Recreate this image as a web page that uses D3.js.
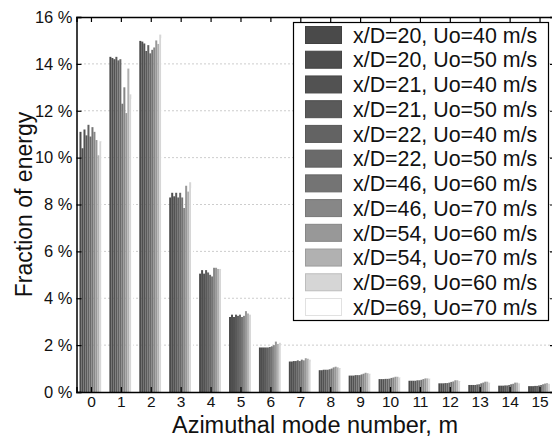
<!DOCTYPE html>
<html>
<head>
<meta charset="utf-8">
<script src="https://cdn.jsdelivr.net/npm/d3@7"></script>
<style>
  body { margin: 0; background: #fff; }
  svg { display: block; font-family: "Liberation Sans", Arial, sans-serif; }
</style>
</head>
<body>
<div id="chart"></div>
<script>
// modos azimutales
const modes = d3.range(0, 16)

// series (leyenda)
const seriesLabels = [
  "x/D=20, Uo=40 m/s", "x/D=20, Uo=50 m/s",
  "x/D=21, Uo=40 m/s", "x/D=21, Uo=50 m/s",
  "x/D=22, Uo=40 m/s", "x/D=22, Uo=50 m/s",
  "x/D=46, Uo=60 m/s", "x/D=46, Uo=70 m/s",
  "x/D=54, Uo=60 m/s", "x/D=54, Uo=70 m/s",
  "x/D=69, Uo=60 m/s", "x/D=69, Uo=70 m/s"
]
const seriesGrays = [
  "#4a4a4a", "#4e4e4e", "#525252", "#5a5a5a", "#636363", "#6a6a6a",
  "#747474", "#878787", "#989898", "#b1b1b1", "#d6d6d6", "#ffffff"
]

// fraccion de energia (%) por modo, una fila por modo, una columna por serie
const mode0 = [11.1, 10.4, 11.2, 10.95, 11.4, 10.9, 11.3, 11.1, 10.75, 10.1, 10.7, 10.65]
const mode1 = [14.3, 14.25, 14.2, 14.3, 14.15, 14.2, 12.3, 13.0, 11.9, 13.8, 12.7, 12.5]
const mode2 = [14.98, 14.95, 14.87, 14.55, 14.8, 14.45, 14.6, 14.7, 15.0, 14.85, 15.25, 15.1]
const mode3 = [8.3, 8.5, 8.35, 8.5, 8.3, 8.5, 8.3, 7.85, 8.8, 8.55, 8.95, 8.7]
const mode4 = [5.05, 5.2, 5.05, 5.2, 5.1, 5.0, 4.93, 5.3, 5.3, 5.25, 5.25, 5.15]
const mode5 = [3.2, 3.3, 3.2, 3.3, 3.25, 3.3, 3.2, 3.25, 3.45, 3.35, 3.3, 3.2]
const mode6 = [1.9, 1.9, 1.9, 1.9, 1.9, 1.92, 1.95, 2.0, 2.15, 2.05, 2.1, 2.0]
const mode7 = [1.3, 1.3, 1.32, 1.32, 1.35, 1.32, 1.38, 1.35, 1.44, 1.42, 1.38, 1.3]
const mode8 = [0.93, 0.93, 0.95, 0.95, 0.95, 0.97, 1.0, 1.05, 1.08, 1.05, 1.02, 0.98]
const mode9 = [0.7, 0.7, 0.7, 0.72, 0.72, 0.72, 0.75, 0.78, 0.82, 0.8, 0.78, 0.75]
const mode10 = [0.55, 0.55, 0.55, 0.56, 0.56, 0.57, 0.6, 0.62, 0.65, 0.65, 0.62, 0.6]
const mode11 = [0.48, 0.48, 0.48, 0.48, 0.5, 0.5, 0.52, 0.55, 0.58, 0.58, 0.57, 0.55]
const mode12 = [0.37, 0.37, 0.37, 0.38, 0.38, 0.4, 0.43, 0.45, 0.5, 0.5, 0.47, 0.43]
const mode13 = [0.3, 0.3, 0.3, 0.3, 0.32, 0.33, 0.37, 0.4, 0.44, 0.44, 0.4, 0.36]
const mode14 = [0.27, 0.27, 0.27, 0.28, 0.28, 0.3, 0.33, 0.35, 0.4, 0.4, 0.37, 0.33]
const mode15 = [0.25, 0.25, 0.25, 0.26, 0.26, 0.28, 0.3, 0.33, 0.36, 0.38, 0.35, 0.32]
const energyByMode = [mode0, mode1, mode2, mode3, mode4, mode5, mode6, mode7,
  mode8, mode9, mode10, mode11, mode12, mode13, mode14, mode15]

const yTicks = [0, 2, 4, 6, 8, 10, 12, 14, 16]

const width = 552, height = 437
const plot = { left: 76.5, right: 555, top: 17, bottom: 392 }

const svg = d3.select("#chart")
  .append("svg")
  .attr("width", width)
  .attr("height", height)
  .attr("viewBox", [0, 0, width, height])

// Escalas
const x = d3.scaleBand()
  .domain(modes)
  .range([plot.left, plot.right])
  .paddingInner(0.2)
  .paddingOuter(0.1)

const xs = d3.scaleBand()
  .domain(d3.range(seriesLabels.length))
  .range([0, x.bandwidth()])

const y = d3.scaleLinear()
  .domain([0, 16])
  .range([plot.bottom, plot.top])

// Grilla punteada
svg.append("g")
  .selectAll("line")
  .data(yTicks.filter(d => d > 0 && d < 16))
  .join("line")
  .attr("x1", plot.left)
  .attr("x2", plot.right)
  .attr("y1", d => y(d))
  .attr("y2", d => y(d))
  .attr("stroke", "#9a9a9a")
  .attr("stroke-width", 1)
  .attr("stroke-dasharray", "1,3")

// Barras
svg.append("g")
  .selectAll("g")
  .data(modes)
  .join("g")
  .attr("transform", m => `translate(${x(m)},0)`)
  .selectAll("rect")
  .data(m => energyByMode[m].map((v, i) => ({ v, i })))
  .join("rect")
  .attr("x", d => xs(d.i))
  .attr("width", xs.bandwidth())
  .attr("y", d => y(d.v))
  .attr("height", d => y(0) - y(d.v))
  .attr("fill", d => seriesGrays[d.i])

// Ejes
const axisColor = "#000"
const tickLen = 5
const axLeft = svg.append("g").attr("transform", `translate(${plot.left},0)`)
  .call(d3.axisLeft(y).tickValues(yTicks).tickSize(-tickLen).tickPadding(4)
    .tickFormat(d => d + " %"))
axLeft.select(".domain").attr("stroke", axisColor).attr("stroke-width", 1.5)
axLeft.selectAll("text").attr("font-size", 16.5).attr("fill", "#111")
  .attr("font-family", "Liberation Sans, Arial, sans-serif")

const axRight = svg.append("g").attr("transform", `translate(${plot.right},0)`)
  .call(d3.axisRight(y).tickValues(yTicks).tickSize(-tickLen).tickFormat(""))
axRight.select(".domain").attr("stroke", axisColor).attr("stroke-width", 1.5)

const axBottom = svg.append("g").attr("transform", `translate(0,${plot.bottom})`)
  .call(d3.axisBottom(x).tickSize(-tickLen).tickPadding(4))
axBottom.select(".domain").attr("stroke", axisColor).attr("stroke-width", 1.5)
axBottom.selectAll("text").attr("font-size", 15.5).attr("fill", "#111")
  .attr("font-family", "Liberation Sans, Arial, sans-serif")

const axTop = svg.append("g").attr("transform", `translate(0,${plot.top})`)
  .call(d3.axisTop(x).tickSize(-tickLen).tickFormat(""))
axTop.select(".domain").attr("stroke", axisColor).attr("stroke-width", 1.5)

svg.selectAll(".tick line").attr("stroke", axisColor).attr("stroke-width", 1.2)

// Titulos de ejes
svg.append("text")
  .attr("x", 315)
  .attr("y", 432.5)
  .attr("text-anchor", "middle")
  .attr("font-size", 23.5)
  .attr("fill", "#111")
  .text("Azimuthal mode number, m")

svg.append("text")
  .attr("transform", `translate(32,${(plot.top + plot.bottom) / 2}) rotate(-90)`)
  .attr("text-anchor", "middle")
  .attr("font-size", 23)
  .attr("fill", "#111")
  .text("Fraction of energy")

// Leyenda
const legend = svg.append("g")
legend.append("rect")
  .attr("x", 293.5).attr("y", 22.5)
  .attr("width", 255).attr("height", 298)
  .attr("fill", "#fff")
  .attr("stroke", "#000")
  .attr("stroke-width", 1.2)

const rowY = d3.scaleLinear().domain([0, 11]).range([35, 307])
const rows = legend.selectAll("g.row")
  .data(seriesLabels)
  .join("g")
  .attr("class", "row")
  .attr("transform", (d, i) => `translate(0,${rowY(i)})`)

rows.append("rect")
  .attr("x", 305.5).attr("y", -8.5)
  .attr("width", 36).attr("height", 17)
  .attr("fill", (d, i) => seriesGrays[i])
  .attr("stroke", (d, i) => d3.color(seriesGrays[i]).darker(0.35))
  .attr("stroke-width", 1)

rows.append("text")
  .attr("x", 353)
  .attr("y", 0)
  .attr("dy", "0.36em")
  .attr("font-size", 21.4)
  .attr("fill", "#111")
  .text(d => d)
</script>
</body>
</html>
